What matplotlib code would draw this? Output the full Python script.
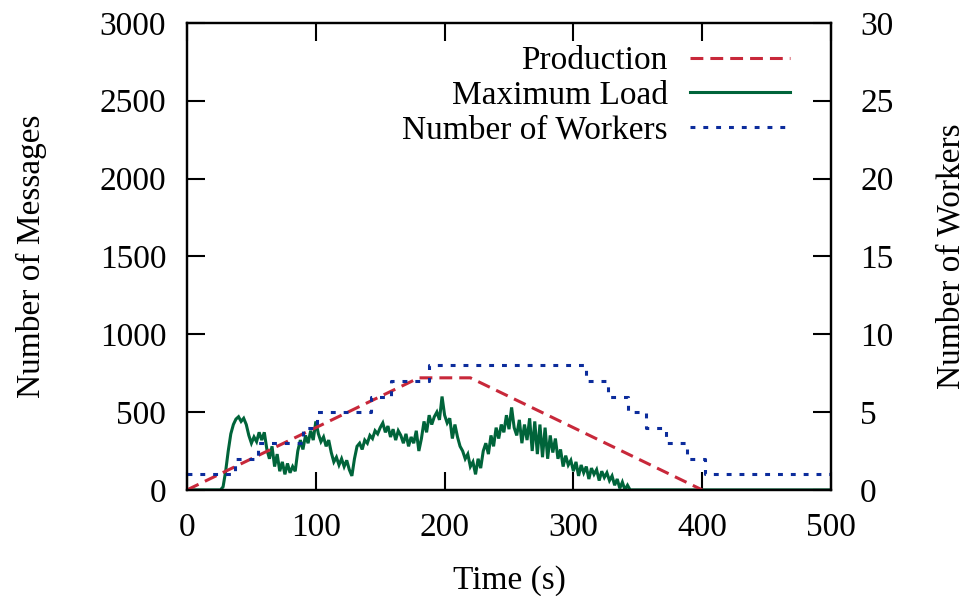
import matplotlib
matplotlib.use("Agg")
import matplotlib.pyplot as plt
from matplotlib.lines import Line2D

plt.rcParams['font.family'] = ['Liberation Serif', 'DejaVu Serif']

# Production (messages/s)
prod_t = [0, 180, 220, 400]
prod_v = [0, 720, 720, 0]

# Number of workers (step function, value holds from each time)
work_t = [0, 37, 55, 90, 101, 143, 158, 188, 310, 327, 342, 356, 372, 388, 402, 500]
work_v = [1, 2, 3, 4, 5, 6, 7, 8, 7, 6, 5, 4, 3, 2, 1, 1]

# Maximum load (sampled every 2 s up to 344 s, then idle)
load_t = list(range(0, 346, 2)) + [500]
load_v = [0, 0, 0, 0, 0, 0, 0, 0, 0, 0, 0, 0, 0, 0,
          20, 120, 250, 360, 420, 455, 470, 440, 460, 420,
          350, 300, 340, 310, 370, 320, 370, 260, 200, 280,
          150, 230, 120, 180, 100, 170, 110, 150, 120, 250,
          320, 260, 350, 300, 380, 320, 440, 360, 310, 340,
          280, 320, 240, 180, 210, 160, 200, 150, 190, 130,
          90, 200, 280, 300, 260, 320, 300, 350, 330, 380,
          360, 400, 430, 370, 410, 340, 390, 320, 380, 350,
          300, 360, 280, 340, 300, 380, 250, 330, 440, 370,
          480, 420, 470, 500, 450, 600, 480, 430, 460, 330,
          420, 340, 280, 250, 200, 230, 150, 180, 100, 200,
          140, 250, 300, 230, 350, 280, 400, 330, 420, 370,
          480, 390, 530, 400, 350, 450, 300, 420, 320, 460,
          250, 440, 230, 420, 210, 400, 200, 350, 240, 330,
          200, 260, 150, 220, 160, 190, 120, 180, 90, 160,
          110, 150, 70, 140, 100, 130, 60, 120, 80, 110,
          60, 90, 30, 70, 10, 50, 0, 30, 0, 0]

RED = '#c8283a'
GREEN = '#00643a'
BLUE = '#0c2c9c'

fig = plt.figure(figsize=(9.69, 5.96), dpi=100)
ax = fig.add_axes([0.193, 0.178, 0.6646, 0.7836])
ax2 = ax.twinx()

lw = 2.2
ax.plot(prod_t, prod_v, color=RED, lw=lw, dashes=(4.2, 2.3), zorder=3)
ax.plot(load_t, load_v, color=GREEN, lw=lw, solid_joinstyle='miter', zorder=2)
ax2.step(work_t, work_v, where='post', color=BLUE, lw=lw, dashes=(1.6, 2.6))

ax.set_xlim(0, 500)
ax.set_ylim(0, 3000)
ax2.set_ylim(0, 30)
ax.set_xticks(range(0, 501, 100))
ax.set_yticks(range(0, 3001, 500))
ax2.set_yticks(range(0, 31, 5))

fs = 24
ax.tick_params(axis='both', direction='in', length=13, width=1.5, labelsize=fs)
ax.tick_params(axis='x', top=True, pad=16)
ax.tick_params(axis='y', pad=15)
ax2.tick_params(axis='y', direction='in', length=13, width=1.5, labelsize=fs, pad=21)
for a in (ax, ax2):
    for s in a.spines.values():
        s.set_linewidth(1.6)

ax.set_xlabel('Time (s)', fontsize=fs)
ax.set_ylabel('Number of Messages', fontsize=fs)
ax2.set_ylabel('Number of Workers', fontsize=fs)
ax.xaxis.set_label_coords(0.5, -0.162)
ax.yaxis.set_label_coords(-0.218, 0.5)
ax2.yaxis.set_label_coords(1.163, 0.5)

handles = [Line2D([], [], color=RED, lw=lw, dashes=(4.2, 2.3)),
           Line2D([], [], color=GREEN, lw=lw),
           Line2D([], [], color=BLUE, lw=lw, dashes=(1.6, 2.6))]
labels = ['Production', 'Maximum Load', 'Number of Workers']
ax.legend(handles, labels, loc='upper right', frameon=False, markerfirst=False,
          fontsize=fs, handlelength=3.0, labelspacing=0.13, handletextpad=0.66,
          borderpad=0, borderaxespad=0, bbox_to_anchor=(0.936, 0.951))

fig.savefig('out.png', dpi=100)
